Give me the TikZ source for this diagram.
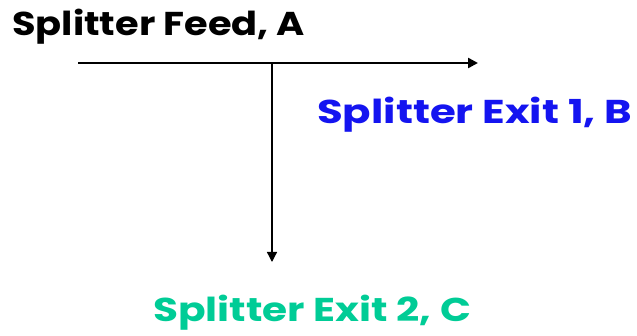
\documentclass[tikz,border=0pt]{standalone}
\usepackage{fontspec}
\setmainfont{Poppins}
\usetikzlibrary{arrows.meta}
\definecolor{exitblue}{RGB}{20,20,240}
\definecolor{exitgreen}{RGB}{0,204,150}
% stretch a label to a given width, keeping its natural height
\newcommand{\fitlabel}[2]{\resizebox{#1}{\height}{#2}}
\tikzset{
  lbl/.style={font=\fontsize{33}{38}\selectfont\bfseries, inner sep=0pt},
  flow/.style={-{Triangle[length=10pt,width=10pt]}},
}
\begin{document}
\begin{tikzpicture}[x=1pt,y=-1pt]
  \useasboundingbox (0,0) rectangle (637,336);
  % labels
  \node[lbl, anchor=west] (feed) at (12,27) {\fitlabel{293pt}{Splitter Feed, A}};
  \node[lbl, anchor=west, text=exitblue] (exit1) at (317,115) {\fitlabel{315pt}{Splitter Exit 1, B}};
  \node[lbl, anchor=west, text=exitgreen] (exit2) at (153,313) {\fitlabel{318pt}{Splitter Exit 2, C}};
  % stream lines
  \coordinate (in) at (78,63);
  \coordinate (split) at (272,63);
  \coordinate (out1) at (478,63);
  \coordinate (out2) at (272,262);
  \draw[flow, line width=2.4pt] (in) -- (out1);
  \draw[flow, line width=1.3pt] (split) -- (out2);
\end{tikzpicture}
\end{document}
